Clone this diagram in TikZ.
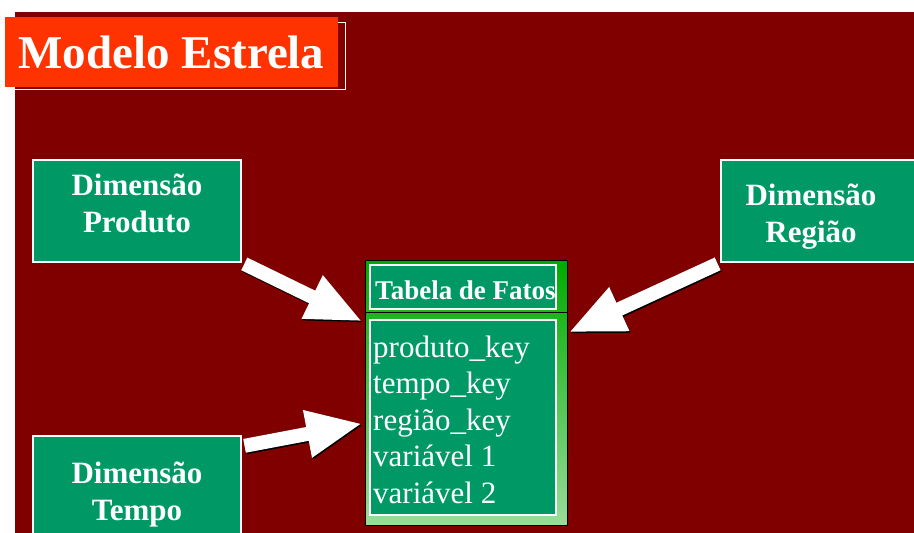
\documentclass[tikz,border=0pt]{standalone}
\usepackage{fontspec}
\setmainfont{Liberation Serif}
\usetikzlibrary{positioning,arrows.meta}

\definecolor{fundo}{HTML}{800000}
\definecolor{titulo}{HTML}{FF3300}
\definecolor{dimverde}{HTML}{009966}
\definecolor{fatoverde}{HTML}{00AA00}
\definecolor{fatoclaro}{HTML}{99DD99}

\begin{document}
\begin{tikzpicture}[x=1pt, y=-1pt,
    caixa/.style={draw=white, fill=dimverde, line width=1.2pt, minimum width=208pt, minimum height=102pt, inner sep=0pt},
    rotulo/.style={text=white, anchor=base, inner sep=0pt, font=\fontsize{31}{37}\selectfont\bfseries},
    campo/.style={text=white, anchor=base west, inner sep=0pt, font=\fontsize{31}{36}\selectfont},
    seta/.style={white, line width=14pt, -{Triangle[length=56pt,width=44pt]}, shorten <=3pt}]
    \useasboundingbox (0,0) rectangle (914,533);
    \clip (0,0) rectangle (914,533);

    % Background
    \fill[fundo] (15,12) rectangle (914,533);

    % Title
    \draw[white, line width=1pt] (12,22) rectangle (345,89);
    \node[fill=titulo, minimum width=333pt, minimum height=70pt, inner sep=0pt, text=white,
          font=\fontsize{47}{50}\selectfont\bfseries] (titulo) at (171.5,52) {Modelo Estrela};

    % Dimensions
    \node[caixa] (produto) at (137,211) {};
    \node[rotulo] (produto-a) at (137,195) {Dimensão};
    \node[rotulo] (produto-b) at (137,232) {Produto};

    \node[caixa] (regiao) at (825,211) {};
    \node[rotulo] (regiao-a) at (811,205) {Dimensão};
    \node[rotulo] (regiao-b) at (811,242) {Região};

    \node[caixa] (tempo) at (137,487) {};
    \node[rotulo] (tempo-a) at (137,483) {Dimensão};
    \node[rotulo] (tempo-b) at (137,520) {Tempo};

    % Fact table
    \node[draw=black, line width=1pt, minimum width=202pt, minimum height=265pt, inner sep=0pt,
          top color=fatoverde, middle color=fatoverde, bottom color=fatoclaro] (fatos) at (466,392.5) {};
    \draw[black, line width=1pt] (fatos.west |- 0,312) -- (fatos.east |- 0,312);
    \node[draw=white, fill=dimverde, line width=1.2pt, minimum width=186pt, minimum height=44pt, inner sep=0pt] (cabecalho) at (463,287) {};
    \node[text=white, anchor=base west, inner sep=0pt, font=\fontsize{27}{32}\selectfont\bfseries] (cab-texto) at (375,299) {Tabela de Fatos};
    \node[draw=white, fill=dimverde, line width=1.2pt, minimum width=186pt, minimum height=195pt, inner sep=0pt] (corpo) at (463,417.5) {};
    \foreach \campo [count=\i] in {produto\_key, tempo\_key, região\_key, variável 1, variável 2}
        \node[campo] (campo-\i) at (373,{357+36.5*(\i-1)}) {\campo};

    % Arrows
    \coordinate (pontaP) at ([xshift=-2pt,yshift=-62pt]fatos.north west);
    \coordinate (pontaR) at ([xshift=1pt,yshift=-73pt]fatos.north east);
    \coordinate (pontaT) at ([xshift=-2pt,yshift=-164pt]fatos.north west);
    \coordinate (saidaT) at ([yshift=-11pt]tempo.north east);
    \foreach \de/\para in {produto.south east/pontaP, regiao.south west/pontaR, saidaT/pontaT} {
        \draw[seta, black, transform canvas={xshift=1pt,yshift=-1.5pt}] (\de) -- (\para);
        \draw[seta] (\de) -- (\para);
    }
\end{tikzpicture}
\end{document}
